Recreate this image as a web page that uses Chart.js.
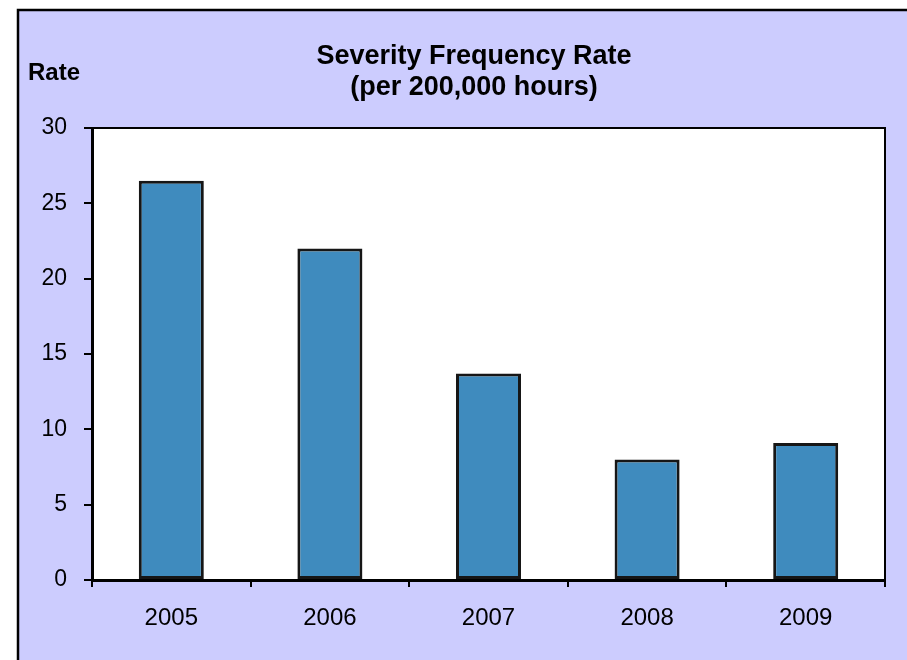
<!DOCTYPE html>
<html>
<head>
<meta charset="utf-8">
<script src="https://cdn.jsdelivr.net/npm/chart.js@4/dist/chart.umd.min.js"></script>
<style>
  html, body { margin: 0; padding: 0; background: #ffffff; }
  #wrap { position: relative; width: 907px; height: 660px; }
  canvas { display: block; }
</style>
</head>
<body>
<div id="wrap"><canvas id="c" width="907" height="660"></canvas></div>
<script>
const categories = ['2005', '2006', '2007', '2008', '2009'];
const rates = [26.5, 22.0, 13.7, 8.0, 9.1];
const yTicks = [0, 5, 10, 15, 20, 25, 30];
const titleLines = ['Severity Frequency Rate', '(per 200,000 hours)'];
const yAxisLabel = 'Rate';

const bgPlugin = {
  id: 'bg',
  beforeDraw(chart) {
    const ctx = chart.ctx;
    ctx.save();
    ctx.fillStyle = '#ffffff';
    ctx.fillRect(0, 0, chart.width, chart.height);
    ctx.fillStyle = '#ccccfe';
    ctx.fillRect(18, 10, chart.width, chart.height);
    ctx.strokeStyle = '#000000';
    ctx.lineWidth = 2.5;
    ctx.beginPath();
    ctx.moveTo(18, chart.height + 5);
    ctx.lineTo(18, 10);
    ctx.lineTo(chart.width + 5, 10);
    ctx.stroke();
    const a = chart.chartArea;
    ctx.fillStyle = '#ffffff';
    ctx.fillRect(a.left, a.top, a.right - a.left, a.bottom - a.top);
    ctx.restore();
  },
  afterDraw(chart) {
    const ctx = chart.ctx;
    const a = chart.chartArea;
    ctx.save();
    ctx.strokeStyle = '#000000';
    ctx.lineWidth = 2;
    ctx.beginPath();
    ctx.moveTo(a.left, a.top);
    ctx.lineTo(a.right, a.top);
    ctx.lineTo(a.right, a.bottom + 6);
    ctx.stroke();
    ctx.fillStyle = '#000000';
    ctx.textBaseline = 'middle';
    ctx.textAlign = 'center';
    ctx.font = 'bold 27px "Liberation Sans", Arial, sans-serif';
    ctx.fillText(titleLines[0], 474, 57);
    ctx.fillText(titleLines[1], 474, 88);
    ctx.textAlign = 'left';
    ctx.font = 'bold 24px "Liberation Sans", Arial, sans-serif';
    ctx.fillText(yAxisLabel, 28, 73);
    ctx.restore();
  }
};

new Chart(document.getElementById('c'), {
  type: 'bar',
  data: {
    labels: categories,
    datasets: [{
      data: rates,
      backgroundColor: '#3f8bbe',
      borderColor: '#161616',
      borderWidth: 3,
      borderSkipped: false,
      categoryPercentage: 1.0,
      barPercentage: 0.41
    }]
  },
  options: {
    responsive: false,
    animation: false,
    devicePixelRatio: 1,
    layout: { padding: { left: 0, right: 22, top: 128, bottom: 0 } },
    plugins: {
      legend: { display: false },
      title: { display: false },
      tooltip: { enabled: false }
    },
    scales: {
      x: {
        offset: true,
        grid: { display: true, drawOnChartArea: false, drawTicks: true, tickLength: 7, color: '#000000', lineWidth: 2, offset: true },
        border: { display: true, color: '#000000', width: 3 },
        ticks: { color: '#000000', font: { family: 'Liberation Sans', size: 24 }, padding: 17 },
        afterFit(s) { s.height = 80; }
      },
      y: {
        min: 0,
        max: 30,
        afterBuildTicks(s) { s.ticks = yTicks.map(v => ({ value: v })); },
        grid: { display: true, drawOnChartArea: false, drawTicks: true, tickLength: 8, color: '#000000', lineWidth: 2 },
        border: { display: true, color: '#000000', width: 3 },
        ticks: { color: '#000000', font: { family: 'Liberation Sans', size: 23 }, padding: 17 },
        afterFit(s) { s.width = 92; }
      }
    }
  },
  plugins: [bgPlugin]
});
</script>
</body>
</html>
